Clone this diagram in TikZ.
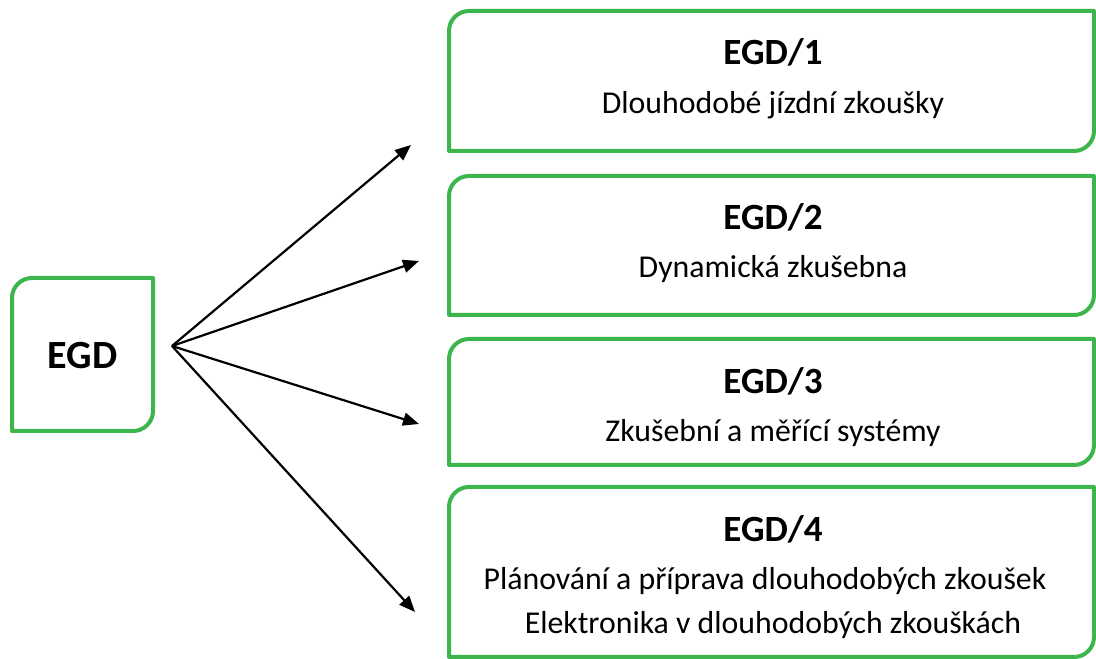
\documentclass[tikz,border=0pt]{standalone}
\usepackage{fontspec}
\setmainfont{Carlito}
\usetikzlibrary{arrows.meta,calc}
\definecolor{frameGreen}{RGB}{60,182,76}
\tikzset{
  boxnode/.style={rectangle,inner sep=0pt,outer sep=0pt,draw=none},
  frameline/.style={draw=frameGreen,line width=4pt,line join=round},
  ttl/.style={font=\fontsize{37}{40}\selectfont\bfseries,anchor=base,inner sep=0pt},
  bigttl/.style={font=\fontsize{40}{44}\selectfont\bfseries,anchor=base,inner sep=0pt},
  subtxt/.style={font=\fontsize{31.8}{34}\selectfont,anchor=base,inner sep=0pt},
  conn/.style={line width=2.2pt,-{Triangle[length=16pt,width=13pt]}}
}
\newcommand{\greenframe}[1]{%
  \path[frameline] (#1.south west) -- ([yshift=-20pt]#1.north west)
    arc[start angle=180,end angle=90,radius=20pt] -- (#1.north east)
    -- ([yshift=20pt]#1.south east)
    arc[start angle=0,end angle=-90,radius=20pt] -- cycle;}
\begin{document}
\begin{tikzpicture}[x=1pt,y=1pt]
\useasboundingbox (0,0) rectangle (1096,659);
% boxes
\node[boxnode,minimum width=141pt,minimum height=153pt] (egd) at (82.5,304.5) {};
\node[boxnode,minimum width=645pt,minimum height=140pt] (b1) at (771.5,578) {};
\node[boxnode,minimum width=645pt,minimum height=139pt] (b2) at (771.5,413.5) {};
\node[boxnode,minimum width=645pt,minimum height=126pt] (b3) at (771.5,257) {};
\node[boxnode,minimum width=645pt,minimum height=170pt] (b4) at (771.5,87) {};
\greenframe{egd}
\greenframe{b1}
\greenframe{b2}
\greenframe{b3}
\greenframe{b4}
% texts
\node[bigttl] (egdt) at (82.5,290) {EGD};
\node[ttl] (t1) at (773,594) {EGD/1};
\node[subtxt] (s1) at (773,545) {Dlouhodobé jízdní zkoušky};
\node[ttl] (t2) at (773,429) {EGD/2};
\node[subtxt] (s2) at (773,381) {Dynamická zkušebna};
\node[ttl] (t3) at (773,265) {EGD/3};
\node[subtxt] (s3) at (773,217) {Zkušební a měřící systémy};
\node[ttl] (t4) at (773,117) {EGD/4};
\node[subtxt] (s4a) at (765,69) {Plánování a příprava dlouhodobých zkoušek};
\node[subtxt] (s4b) at (773,25) {Elektronika v dlouhodobých zkouškách};
% connectors
\coordinate (src) at (172,313);
\coordinate (e1) at (411,514);
\coordinate (e2) at (419,398);
\coordinate (e3) at (419,235);
\coordinate (e4) at (415,47);
\draw[conn] (src) -- (e1);
\draw[conn] (src) -- (e2);
\draw[conn] (src) -- (e3);
\draw[conn] (src) -- (e4);
\end{tikzpicture}
\end{document}
